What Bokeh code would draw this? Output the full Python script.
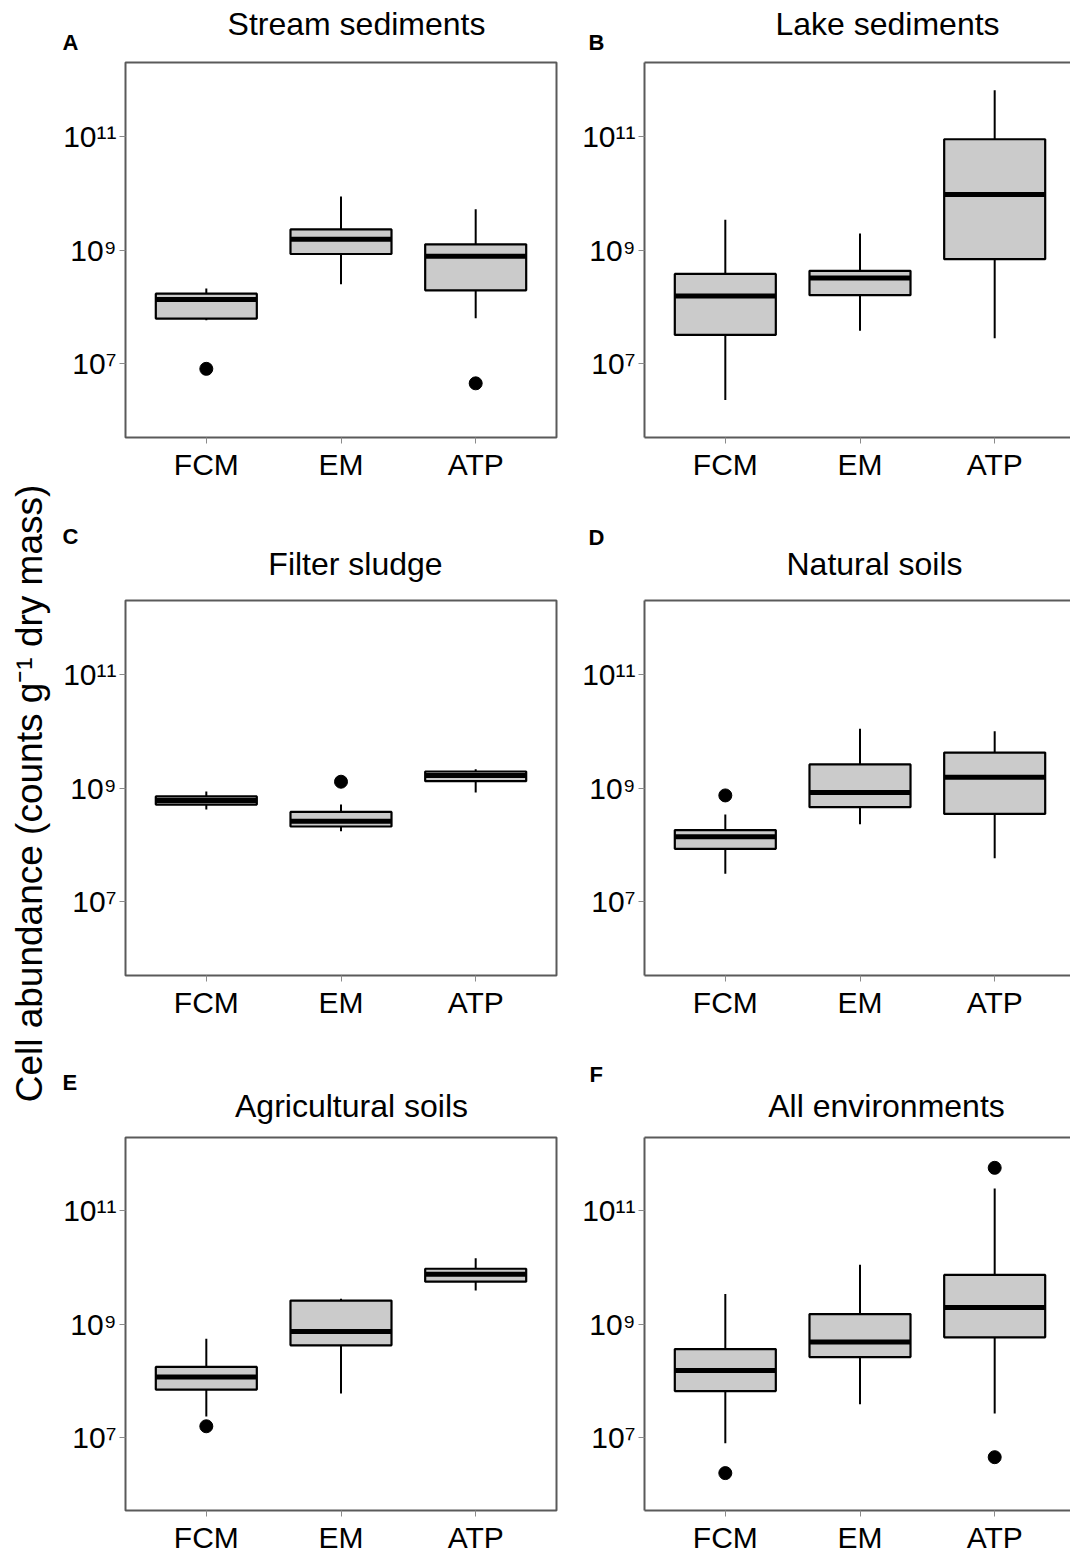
import math
from bokeh.plotting import figure
from bokeh.layouts import row, column
from bokeh.models import Range1d, FixedTicker, Label, LinearAxis
from bokeh.embed import file_html
from bokeh.resources import INLINE

# ---------------- data ----------------
CATEGORIES = ["FCM", "EM", "ATP"]
Y_TICKS = [1e7, 1e9, 1e11]
Y_TICK_LABELS = ["10⁷", "10⁹", "10¹¹"]
PANEL_LETTERS = ["A", "B", "C", "D", "E", "F"]
PANEL_TITLES = ["Stream sediments", "Lake sediments", "Filter sludge",
                "Natural soils", "Agricultural soils", "All environments"]
Y_LABEL = "Cell abundance (counts g⁻¹ dry mass)"

# Stream sediments (FCM, EM, ATP)
STREAM_LOW = [5.8e7, 2.5e8, 6.3e7]
STREAM_Q1 = [6.2e7, 8.5e8, 1.95e8]
STREAM_MED = [1.35e8, 1.55e9, 7.8e8]
STREAM_Q3 = [1.7e8, 2.3e9, 1.26e9]
STREAM_HIGH = [2.1e8, 8.7e9, 5.2e9]
STREAM_OUT_CAT = ["FCM", "ATP"]
STREAM_OUT_VAL = [8.1e6, 4.5e6]

# Lake sediments
LAKE_LOW = [2.3e6, 3.8e7, 2.8e7]
LAKE_Q1 = [3.2e7, 1.6e8, 6.9e8]
LAKE_MED = [1.55e8, 3.2e8, 9.5e9]
LAKE_Q3 = [3.8e8, 4.3e8, 8.9e10]
LAKE_HIGH = [3.4e9, 1.95e9, 6.5e11]
LAKE_OUT_CAT = []
LAKE_OUT_VAL = []

# Filter sludge
SLUDGE_LOW = [4.2e8, 1.74e8, 8.3e8]
SLUDGE_Q1 = [5.1e8, 2.1e8, 1.32e9]
SLUDGE_MED = [6.0e8, 2.6e8, 1.66e9]
SLUDGE_Q3 = [7.1e8, 3.8e8, 1.95e9]
SLUDGE_HIGH = [8.7e8, 5.1e8, 2.14e9]
SLUDGE_OUT_CAT = ["EM"]
SLUDGE_OUT_VAL = [1.29e9]

# Natural soils
NATURAL_LOW = [3.1e7, 2.3e8, 5.8e7]
NATURAL_Q1 = [8.5e7, 4.6e8, 3.5e8]
NATURAL_MED = [1.38e8, 8.3e8, 1.55e9]
NATURAL_Q3 = [1.82e8, 2.6e9, 4.2e9]
NATURAL_HIGH = [3.4e8, 1.1e10, 1.0e10]
NATURAL_OUT_CAT = ["FCM"]
NATURAL_OUT_VAL = [7.4e8]

# Agricultural soils
AGRI_LOW = [2.3e7, 5.9e7, 3.9e9]
AGRI_Q1 = [6.9e7, 4.2e8, 5.6e9]
AGRI_MED = [1.15e8, 7.4e8, 7.6e9]
AGRI_Q3 = [1.74e8, 2.6e9, 9.5e9]
AGRI_HIGH = [5.5e8, 2.8e9, 1.45e10]
AGRI_OUT_CAT = ["FCM"]
AGRI_OUT_VAL = [1.55e7]

# All environments
ALL_LOW = [7.8e6, 3.8e7, 2.6e7]
ALL_Q1 = [6.5e7, 2.6e8, 5.8e8]
ALL_MED = [1.5e8, 4.8e8, 1.95e9]
ALL_Q3 = [3.6e8, 1.5e9, 7.4e9]
ALL_HIGH = [3.4e9, 1.12e10, 2.5e11]
ALL_OUT_CAT = ["FCM", "ATP", "ATP"]
ALL_OUT_VAL = [2.3e6, 5.8e11, 4.4e6]

# ---------------- styling / layout ----------------
FONT = "Liberation Sans"
YLOG_MIN, YLOG_MAX = 5.70, 12.30
FRAME_H = 375
PX_PER_UNIT = 431 / 3.2
X0 = 0.4
BOX_HALF = 0.375
FRAME_COLOR = "#5a5a5a"
TICK_COLOR = "#8a8a8a"
BOX_FILL = "#cbcbcb"
TOP_BORDER = 6

LABEL_W = 56
LEFT_W, LEFT_MBL, LEFT_MBR, LEFT_FRAME = 522, 69, 22, 431
RIGHT_W, RIGHT_MBL, RIGHT_FRAME = 492, 66, 426
STRIP_W = LEFT_W + RIGHT_W

CAT_POS = {c: i + 1 for i, c in enumerate(CATEGORIES)}


def make_panel(low, q1, med, q3, high, out_cat, out_val, right_col, mbb):
    if right_col:
        width, mbl, mbr, frame_w = RIGHT_W, RIGHT_MBL, 0, RIGHT_FRAME
    else:
        width, mbl, mbr, frame_w = LEFT_W, LEFT_MBL, LEFT_MBR, LEFT_FRAME
    p = figure(width=width, height=TOP_BORDER + FRAME_H + mbb,
               output_backend="svg", toolbar_location=None, tools="",
               y_axis_type="log",
               x_range=Range1d(X0, X0 + frame_w / PX_PER_UNIT),
               y_range=Range1d(10 ** YLOG_MIN, 10 ** YLOG_MAX),
               min_border_left=mbl, min_border_right=mbr,
               min_border_top=TOP_BORDER, min_border_bottom=mbb)
    p.grid.visible = False
    p.background_fill_color = "white"
    p.border_fill_color = "white"

    xs = [CAT_POS[c] for c in CATEGORIES]

    xa = p.below[0]
    xa.ticker = FixedTicker(ticks=xs)
    xa.major_label_overrides = {x: c for x, c in zip(xs, CATEGORIES)}
    xa.minor_tick_line_color = None
    xa.major_tick_in = 0
    xa.major_tick_out = 6
    xa.major_tick_line_color = TICK_COLOR
    xa.axis_line_width = 2
    xa.major_label_standoff = 4
    xa.major_label_text_font = FONT
    xa.major_label_text_font_size = "30px"
    xa.major_label_text_color = "black"

    ya = p.left[0]
    ya.ticker = FixedTicker(ticks=Y_TICKS)
    ya.major_label_overrides = {t: s for t, s in zip(Y_TICKS, Y_TICK_LABELS)}
    ya.minor_tick_line_color = None
    ya.major_tick_in = 0
    ya.major_tick_out = 6
    ya.major_tick_line_color = TICK_COLOR
    ya.axis_line_width = 2
    ya.major_label_standoff = 3
    ya.major_label_text_font = FONT
    ya.major_label_text_font_size = "30px"
    ya.major_label_text_color = "black"

    if right_col:
        # plot box runs off the right edge of the page: no right border
        p.outline_line_color = None
        xa.axis_line_color = FRAME_COLOR
        ya.axis_line_color = FRAME_COLOR
        top_ax = LinearAxis(ticker=FixedTicker(ticks=[]), major_tick_in=0, major_tick_out=0,
                            minor_tick_in=0, minor_tick_out=0, major_label_standoff=0,
                            axis_label_standoff=0, axis_line_color=FRAME_COLOR,
                            axis_line_width=2)
        p.add_layout(top_ax, "above")
    else:
        p.outline_line_color = FRAME_COLOR
        p.outline_line_width = 2
        xa.axis_line_color = None
        ya.axis_line_color = None

    # whiskers
    p.segment(x0=xs, y0=q3, x1=xs, y1=high, line_color="black", line_width=2)
    p.segment(x0=xs, y0=q1, x1=xs, y1=low, line_color="black", line_width=2)
    # boxes
    p.quad(left=[x - BOX_HALF for x in xs], right=[x + BOX_HALF for x in xs],
           bottom=q1, top=q3, fill_color=BOX_FILL, line_color="black", line_width=2.2)
    # medians
    p.segment(x0=[x - BOX_HALF for x in xs], y0=med, x1=[x + BOX_HALF for x in xs], y1=med,
              line_color="black", line_width=5, line_cap="butt")
    # outliers
    if out_cat:
        p.scatter(x=[CAT_POS[c] for c in out_cat], y=out_val, size=13,
                  fill_color="black", line_color="black", marker="circle")
    return p


def make_strip(top, height, items):
    """Header strip; coordinates are page pixels (x from left, y from top)."""
    s = figure(width=STRIP_W, height=height, output_backend="svg",
               toolbar_location=None, tools="",
               x_range=Range1d(LABEL_W, LABEL_W + STRIP_W),
               y_range=Range1d(top + height, top),
               x_axis_location=None, y_axis_location=None,
               min_border_left=0, min_border_right=0, min_border_top=0, min_border_bottom=0)
    s.grid.visible = False
    s.outline_line_color = None
    for (letter, lx, ly, title, tx, ty) in items:
        s.add_layout(Label(x=tx, y=ty, text=title, text_align="center",
                           text_baseline="middle", text_font=FONT,
                           text_font_size="32px", text_color="black"))
        s.add_layout(Label(x=lx, y=ly, text=letter, text_align="left",
                           text_baseline="middle", text_font=FONT,
                           text_font_size="22px", text_font_style="bold",
                           text_color="black"))
    return s


B1, B2, B3 = 50, 50, 44
S1_TOP, S1_H = 0, 56
R1_H = TOP_BORDER + FRAME_H + B1
S2_TOP = S1_TOP + S1_H + R1_H
S2_H = 107
R2_H = TOP_BORDER + FRAME_H + B2
S3_TOP = S2_TOP + S2_H + R2_H
S3_H = 106
R3_H = TOP_BORDER + FRAME_H + B3
TOTAL_H = S1_H + R1_H + S2_H + R2_H + S3_H + R3_H

# (letter, letter x, letter y, title, title centre x, title y) in page pixels
strip1 = make_strip(S1_TOP, S1_H, [
    (PANEL_LETTERS[0], 62, 42, PANEL_TITLES[0], 356, 23),
    (PANEL_LETTERS[1], 588, 41.5, PANEL_TITLES[1], 887, 23)])
strip2 = make_strip(S2_TOP, S2_H, [
    (PANEL_LETTERS[2], 62, 536, PANEL_TITLES[2], 355, 563),
    (PANEL_LETTERS[3], 588, 536.5, PANEL_TITLES[3], 874, 563)])
strip3 = make_strip(S3_TOP, S3_H, [
    (PANEL_LETTERS[4], 62, 1082, PANEL_TITLES[4], 351, 1105),
    (PANEL_LETTERS[5], 589, 1074, PANEL_TITLES[5], 886, 1105)])

pA = make_panel(STREAM_LOW, STREAM_Q1, STREAM_MED, STREAM_Q3, STREAM_HIGH,
                STREAM_OUT_CAT, STREAM_OUT_VAL, False, B1)
pB = make_panel(LAKE_LOW, LAKE_Q1, LAKE_MED, LAKE_Q3, LAKE_HIGH,
                LAKE_OUT_CAT, LAKE_OUT_VAL, True, B1)
pC = make_panel(SLUDGE_LOW, SLUDGE_Q1, SLUDGE_MED, SLUDGE_Q3, SLUDGE_HIGH,
                SLUDGE_OUT_CAT, SLUDGE_OUT_VAL, False, B2)
pD = make_panel(NATURAL_LOW, NATURAL_Q1, NATURAL_MED, NATURAL_Q3, NATURAL_HIGH,
                NATURAL_OUT_CAT, NATURAL_OUT_VAL, True, B2)
pE = make_panel(AGRI_LOW, AGRI_Q1, AGRI_MED, AGRI_Q3, AGRI_HIGH,
                AGRI_OUT_CAT, AGRI_OUT_VAL, False, B3)
pF = make_panel(ALL_LOW, ALL_Q1, ALL_MED, ALL_Q3, ALL_HIGH,
                ALL_OUT_CAT, ALL_OUT_VAL, True, B3)

lab = figure(width=LABEL_W, height=TOTAL_H, output_backend="svg", toolbar_location=None,
             tools="", x_range=Range1d(0, LABEL_W), y_range=Range1d(TOTAL_H, 0),
             x_axis_location=None, y_axis_location=None,
             min_border_left=0, min_border_right=0, min_border_top=0, min_border_bottom=0)
lab.grid.visible = False
lab.outline_line_color = None
lab.add_layout(Label(x=29, y=793, text=Y_LABEL, angle=math.pi / 2,
                     text_align="center", text_baseline="middle",
                     text_font=FONT, text_font_size="37px", text_color="black"))

layout = row(lab, column(strip1, row(pA, pB), strip2, row(pC, pD), strip3, row(pE, pF)))

open("out.html", "w").write(file_html(layout, INLINE))
